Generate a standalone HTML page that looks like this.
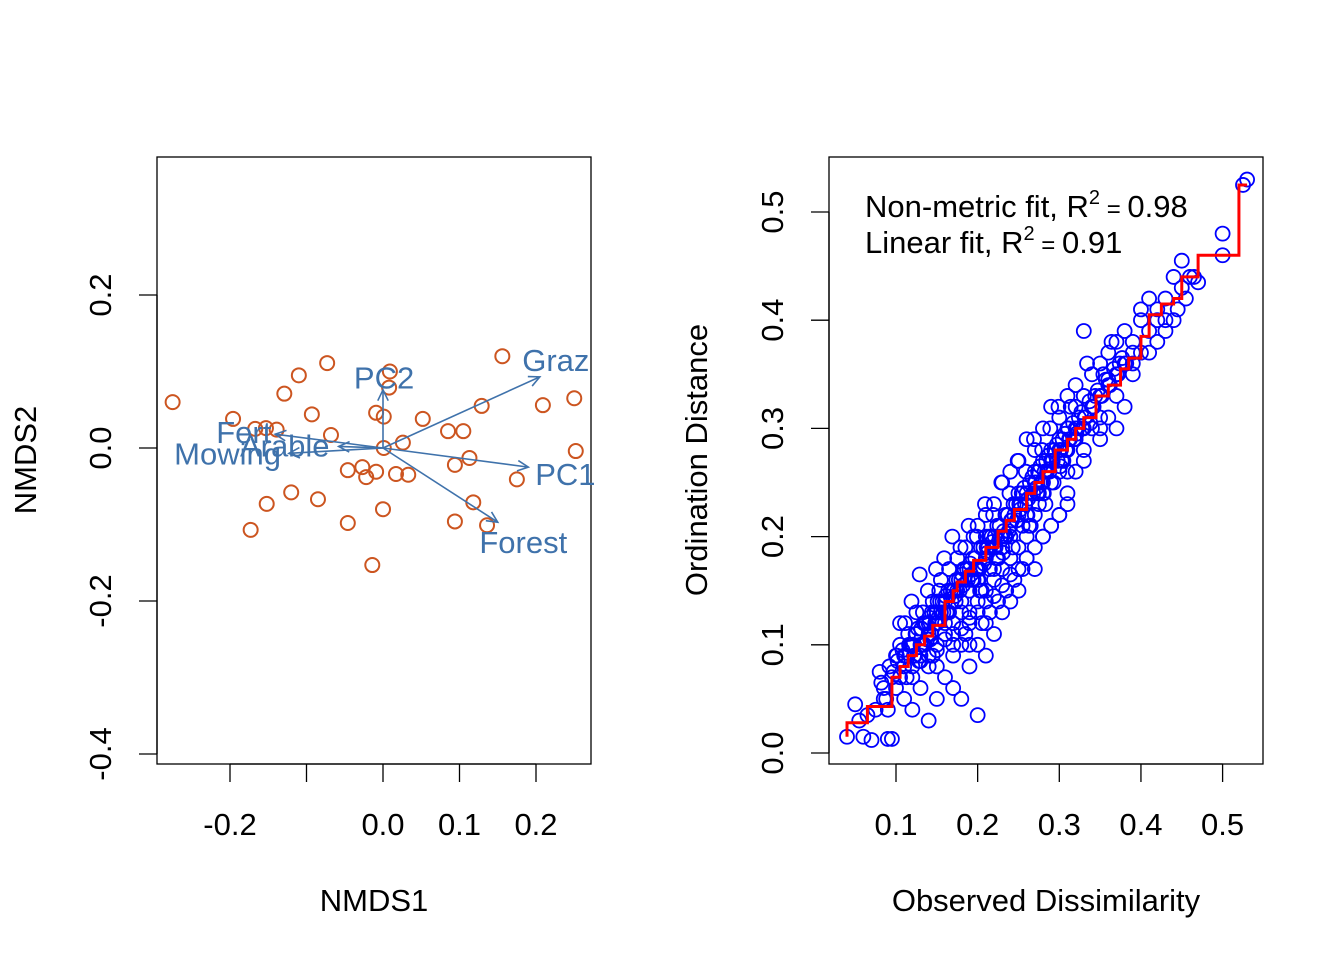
<!DOCTYPE html>
<html><head><meta charset="utf-8"><style>
html,body{margin:0;padding:0;background:#fff;}
svg{display:block;font-family:"Liberation Sans",Arial,sans-serif;}
</style></head><body>
<svg id="c" width="1344" height="960" viewBox="0 0 1344 960"></svg>
<script>
// ---- Left: NMDS ordination ----
const siteX=[-0.275,-0.196,-0.167,-0.153,-0.139,-0.129,-0.110,-0.073,-0.093,-0.068,-0.046,-0.027,-0.022,-0.009,-0.009,0.001,0.009,0.008,0.026,0.033,0.017,0.0,-0.014,-0.046,-0.085,-0.120,-0.152,-0.173,0.052,0.085,0.105,0.094,0.113,0.129,0.156,0.209,0.250,0.252,0.175,0.118,0.136,0.094,0.001];
const siteY=[0.060,0.038,0.025,0.026,0.024,0.071,0.095,0.111,0.044,0.017,-0.029,-0.025,-0.038,-0.031,0.046,0.041,0.100,0.079,0.007,-0.035,-0.034,-0.080,-0.153,-0.098,-0.067,-0.058,-0.073,-0.107,0.038,0.022,0.022,-0.022,-0.013,0.055,0.120,0.056,0.065,-0.004,-0.041,-0.071,-0.101,-0.096,0.0];
const vecNames=["PC2","Graz","PC1","Forest","Fert","Arable","Mowing"];
const vecX=[0.0,0.205,0.190,0.150,-0.141,-0.058,-0.123];
const vecY=[0.076,0.093,-0.025,-0.097,0.018,0.002,-0.007];
const labX=[-0.038,0.182,0.199,0.126,-0.218,-0.187,-0.273];
const labY=[0.092,0.115,-0.034,-0.123,0.021,0.003,-0.007];
const leftXT=[-0.2,-0.1,0.0,0.1,0.2], leftXL=["-0.2","","0.0","0.1","0.2"];
const leftYT=[-0.4,-0.2,0.0,0.2], leftYL=["-0.4","-0.2","0.0","0.2"];
// ---- Right: Shepard plot ----
const obs=[0.04,0.05,0.055,0.06,0.07,0.065,0.08,0.085,0.09,0.09,0.095,0.1,0.1,0.105,0.11,0.11,0.115,0.12,0.12,0.12,0.125,0.13,0.13,0.135,0.14,0.14,0.14,0.145,0.15,0.15,0.15,0.155,0.16,0.16,0.16,0.165,0.17,0.17,0.17,0.175,0.18,0.18,0.18,0.18,0.185,0.19,0.19,0.19,0.19,0.195,0.2,0.2,0.2,0.2,0.2,0.205,0.21,0.21,0.21,0.21,0.215,0.22,0.22,0.22,0.22,0.225,0.23,0.23,0.23,0.23,0.235,0.24,0.24,0.24,0.24,0.245,0.25,0.25,0.25,0.25,0.255,0.26,0.26,0.26,0.26,0.265,0.27,0.27,0.27,0.27,0.275,0.28,0.28,0.28,0.28,0.285,0.29,0.29,0.29,0.29,0.3,0.3,0.3,0.3,0.305,0.31,0.31,0.31,0.31,0.32,0.32,0.32,0.32,0.33,0.33,0.33,0.33,0.34,0.34,0.34,0.35,0.35,0.35,0.36,0.36,0.36,0.37,0.37,0.37,0.38,0.38,0.38,0.39,0.39,0.4,0.4,0.41,0.41,0.42,0.42,0.43,0.43,0.44,0.44,0.45,0.45,0.46,0.47,0.5,0.5,0.525,0.53,
0.13,0.14,0.15,0.16,0.17,0.18,0.19,0.2,0.21,0.22,0.23,0.24,0.25,0.26,0.27,0.28,0.29,0.3,0.31,0.32,0.17,0.19,0.21,0.15,0.14,0.165,0.185,0.205,0.225,0.245,0.11,0.125,0.135,0.155,0.175,0.195,0.215,0.235,0.255,0.275,0.095,0.085,0.075,0.105,0.145,
0.082,0.088,0.097,0.102,0.108,0.113,0.118,0.122,0.127,0.132,0.137,0.142,0.147,0.152,0.157,0.162,0.167,0.172,0.177,0.182,0.187,0.192,0.197,0.202,0.207,0.212,0.217,0.222,0.227,0.232,0.237,0.242,0.247,0.252,0.257,0.262,0.267,0.272,0.277,0.282,0.287,0.292,0.297,0.302,0.307,0.312,0.317,0.322,0.327,0.332,0.337,0.342,0.347,0.352,0.357,0.362,0.367,0.372,0.377,0.382,
0.092,0.101,0.111,0.121,0.131,0.141,0.151,0.161,0.171,0.181,0.191,0.201,0.211,0.221,0.231,0.241,0.251,0.261,0.271,0.281,0.291,0.301,0.311,0.321,0.331,0.341,0.351,
0.116,0.128,0.138,0.148,0.158,0.168,0.178,0.188,0.198,0.208,0.218,0.228,0.238,0.248,0.258,0.268,0.278,0.288,0.298,0.308,0.318,0.328,0.338,
0.12,0.13,0.14,0.15,0.16,0.17,0.18,0.19,0.2,0.21,0.22,0.23,0.24,0.25,0.26,0.27,0.28,0.29,0.3,0.31,0.33,0.35,0.37,0.39,0.41,0.43,0.445,0.455,0.465,0.39,0.4,0.42,0.35,0.34,0.36,
0.105,0.112,0.119,0.124,0.129,0.134,0.139,0.144,0.149,0.154,0.159,0.164,0.169,0.174,0.179,0.184,0.189,0.194,0.199,0.204,0.209,0.214,0.219,0.224,0.229,0.234,0.239,0.244,0.249,0.254,0.259,0.264,0.269,0.274,0.279,0.284,0.289,0.294,0.299,0.304,0.314,0.324,0.334,0.344,0.354,0.364,0.374,
0.123,0.133,0.143,0.153,0.163,0.173,0.183,0.193,0.203,0.213,0.223,0.233,0.243,0.253,0.263,0.273,0.283,0.293,0.303,0.313];
const dist=[0.015,0.045,0.03,0.015,0.012,0.035,0.075,0.06,0.013,0.04,0.013,0.06,0.09,0.1,0.05,0.08,0.11,0.04,0.07,0.1,0.13,0.06,0.09,0.12,0.03,0.08,0.11,0.14,0.05,0.1,0.13,0.16,0.07,0.11,0.14,0.17,0.09,0.12,0.15,0.18,0.05,0.1,0.13,0.16,0.19,0.08,0.12,0.15,0.17,0.2,0.035,0.1,0.14,0.17,0.21,0.12,0.09,0.15,0.18,0.22,0.13,0.11,0.16,0.19,0.23,0.14,0.13,0.17,0.2,0.25,0.15,0.14,0.18,0.21,0.26,0.16,0.15,0.19,0.22,0.27,0.17,0.18,0.2,0.24,0.29,0.21,0.17,0.22,0.25,0.28,0.23,0.2,0.24,0.27,0.3,0.26,0.21,0.25,0.28,0.32,0.22,0.26,0.29,0.31,0.27,0.24,0.28,0.3,0.33,0.26,0.29,0.32,0.34,0.28,0.3,0.33,0.39,0.3,0.32,0.35,0.29,0.33,0.36,0.31,0.34,0.37,0.3,0.35,0.38,0.32,0.36,0.39,0.35,0.38,0.37,0.4,0.39,0.42,0.38,0.41,0.4,0.42,0.4,0.44,0.43,0.455,0.44,0.435,0.46,0.48,0.525,0.53,
0.1,0.12,0.08,0.12,0.1,0.14,0.13,0.16,0.2,0.17,0.19,0.2,0.24,0.22,0.26,0.25,0.27,0.28,0.26,0.3,0.06,0.1,0.12,0.12,0.09,0.13,0.11,0.15,0.18,0.22,0.09,0.11,0.1,0.13,0.15,0.16,0.17,0.2,0.21,0.24,0.07,0.05,0.04,0.07,0.09,
0.065,0.05,0.075,0.085,0.095,0.07,0.1,0.09,0.115,0.1,0.12,0.105,0.13,0.125,0.14,0.13,0.15,0.145,0.16,0.155,0.17,0.165,0.18,0.17,0.19,0.185,0.2,0.19,0.21,0.205,0.22,0.215,0.23,0.225,0.245,0.235,0.255,0.245,0.265,0.26,0.275,0.27,0.285,0.28,0.295,0.29,0.305,0.3,0.315,0.31,0.325,0.32,0.335,0.33,0.345,0.34,0.355,0.35,0.365,0.36,
0.08,0.09,0.12,0.1,0.115,0.125,0.14,0.145,0.15,0.165,0.175,0.16,0.19,0.2,0.185,0.215,0.23,0.22,0.25,0.24,0.27,0.265,0.3,0.295,0.31,0.32,0.33,
0.1,0.085,0.105,0.12,0.13,0.14,0.15,0.16,0.17,0.175,0.195,0.2,0.205,0.215,0.23,0.24,0.25,0.26,0.27,0.28,0.29,0.3,0.305,
0.08,0.085,0.09,0.095,0.105,0.11,0.115,0.125,0.13,0.14,0.145,0.155,0.165,0.17,0.18,0.19,0.2,0.21,0.22,0.23,0.27,0.3,0.33,0.36,0.37,0.39,0.41,0.42,0.44,0.37,0.41,0.4,0.31,0.32,0.345,
0.12,0.09,0.14,0.11,0.165,0.12,0.15,0.13,0.17,0.14,0.18,0.15,0.2,0.16,0.19,0.17,0.21,0.18,0.2,0.19,0.23,0.2,0.22,0.21,0.25,0.22,0.24,0.23,0.27,0.24,0.26,0.25,0.29,0.26,0.28,0.27,0.3,0.28,0.32,0.29,0.32,0.31,0.36,0.33,0.35,0.38,0.36,
0.09,0.13,0.11,0.15,0.13,0.14,0.17,0.16,0.15,0.19,0.18,0.2,0.19,0.23,0.21,0.24,0.23,0.25,0.27,0.29];
const stepX=[0.04,0.065,0.095,0.105,0.115,0.125,0.135,0.145,0.16,0.17,0.175,0.185,0.195,0.21,0.225,0.235,0.245,0.26,0.27,0.28,0.295,0.31,0.32,0.33,0.345,0.36,0.375,0.385,0.4,0.41,0.425,0.44,0.45,0.47,0.5,0.52,0.53];
const stepY=[0.028,0.043,0.07,0.08,0.09,0.1,0.108,0.118,0.14,0.15,0.158,0.168,0.178,0.19,0.205,0.215,0.225,0.24,0.25,0.26,0.28,0.29,0.3,0.31,0.33,0.34,0.355,0.365,0.385,0.405,0.415,0.42,0.44,0.46,0.46,0.525,0.525];
const rightXT=[0.1,0.2,0.3,0.4,0.5], rightXL=["0.1","0.2","0.3","0.4","0.5"];
const rightYT=[0.0,0.1,0.2,0.3,0.4,0.5], rightYL=["0.0","0.1","0.2","0.3","0.4","0.5"];

const NS="http://www.w3.org/2000/svg";
const svg=document.getElementById('c');
const FS=31;
function el(t,a,txt,p){const e=document.createElementNS(NS,t);for(const k in a)e.setAttribute(k,a[k]);if(txt!=null)e.textContent=txt;(p||svg).appendChild(e);return e;}
const lx=v=>383+v*765, ly=v=>448-v*765;
const rx=v=>896+(v-0.1)*816.5, ry=v=>753-v*1082;

// LEFT panel
const gL=el('g',{});


let b=el('rect',{x:157,y:157,width:434,height:607,fill:'none',stroke:'#000','stroke-width':1.3},null,gL);

el('line',{x1:lx(-0.2),x2:lx(0.2),y1:764,y2:764,stroke:'#000','stroke-width':1.3},null,gL);
leftXT.forEach((v,i)=>{el('line',{x1:lx(v),x2:lx(v),y1:764,y2:782,stroke:'#000','stroke-width':1.3},null,gL);
 const t=el('text',{x:lx(v),y:835,'font-size':FS,'text-anchor':'middle'},leftXL[i],gL);});
el('line',{x1:157,x2:157,y1:ly(-0.4),y2:ly(0.2),stroke:'#000','stroke-width':1.3},null,gL);
leftYT.forEach((v,i)=>{el('line',{x1:139,x2:157,y1:ly(v),y2:ly(v),stroke:'#000','stroke-width':1.3},null,gL);
 const t=el('text',{x:111,y:ly(v),'font-size':FS,'text-anchor':'middle',transform:`rotate(-90 111 ${ly(v)})`},leftYL[i],gL);});
let t=el('text',{x:374,y:911,'font-size':FS,'text-anchor':'middle'},'NMDS1',gL);
t=el('text',{x:36,y:460,'font-size':FS,'text-anchor':'middle',transform:'rotate(-90 36 460)'},'NMDS2',gL);
siteX.forEach((v,i)=>{const c=el('circle',{cx:lx(v),cy:ly(siteY[i]),r:7,fill:'none',stroke:'#cc5520','stroke-width':2},null,gL);
 });
const ac='#3f72ab';
vecNames.forEach((n,i)=>{const x2=lx(vecX[i]),y2=ly(vecY[i]),x1=lx(0),y1=ly(0);
 const a=el('line',{x1,y1,x2,y2,stroke:ac,'stroke-width':1.6},null,gL);
 const ang=Math.atan2(y2-y1,x2-x1),L=12,s=0.45;
 el('polyline',{points:`${x2-L*Math.cos(ang-s)},${y2-L*Math.sin(ang-s)} ${x2},${y2} ${x2-L*Math.cos(ang+s)},${y2-L*Math.sin(ang+s)}`,fill:'none',stroke:ac,'stroke-width':1.6},null,gL);
 const lt=el('text',{x:lx(labX[i]),y:ly(labY[i])+11,'font-size':FS,fill:ac},n,gL);});

// RIGHT panel
const gR=el('g',{});


b=el('rect',{x:829,y:157,width:434,height:607,fill:'none',stroke:'#000','stroke-width':1.3},null,gR);

el('line',{x1:rx(0.1),x2:rx(0.5),y1:764,y2:764,stroke:'#000','stroke-width':1.3},null,gR);
rightXT.forEach((v,i)=>{el('line',{x1:rx(v),x2:rx(v),y1:764,y2:782,stroke:'#000','stroke-width':1.3},null,gR);
 const t=el('text',{x:rx(v),y:835,'font-size':FS,'text-anchor':'middle'},rightXL[i],gR);});
el('line',{x1:829,x2:829,y1:ry(0),y2:ry(0.5),stroke:'#000','stroke-width':1.3},null,gR);
rightYT.forEach((v,i)=>{el('line',{x1:811,x2:829,y1:ry(v),y2:ry(v),stroke:'#000','stroke-width':1.3},null,gR);
 const t=el('text',{x:783,y:ry(v),'font-size':FS,'text-anchor':'middle',transform:`rotate(-90 783 ${ry(v)})`},rightYL[i],gR);});
t=el('text',{x:1046,y:911,'font-size':FS,'text-anchor':'middle'},'Observed Dissimilarity',gR);
t=el('text',{x:707,y:460,'font-size':FS,'text-anchor':'middle',transform:'rotate(-90 707 460)'},'Ordination Distance',gR);
obs.forEach((v,i)=>{const c=el('circle',{cx:rx(v),cy:ry(dist[i]),r:7,fill:'none',stroke:'#0000ff','stroke-width':1.8},null,gR);
 });
let d=`M${rx(stepX[0])},${ry(0.015)}`;
for(let i=0;i<stepX.length-1;i++){d+=` L${rx(stepX[i])},${ry(stepY[i])} L${rx(stepX[i+1])},${ry(stepY[i])}`;}
const sp=el('path',{d,fill:'none',stroke:'#ff0000','stroke-width':3},null,gR);

t=el('text',{x:865,y:217,'font-size':FS},null,gR);t.innerHTML='Non-metric fit, R<tspan font-size="20" dy="-13">2</tspan><tspan dy="13" font-size="24"> = </tspan><tspan>0.98</tspan>';

t=el('text',{x:865,y:253,'font-size':FS},null,gR);t.innerHTML='Linear fit, R<tspan font-size="20" dy="-13">2</tspan><tspan dy="13" font-size="24"> = </tspan><tspan>0.91</tspan>';

</script>
</body></html>
